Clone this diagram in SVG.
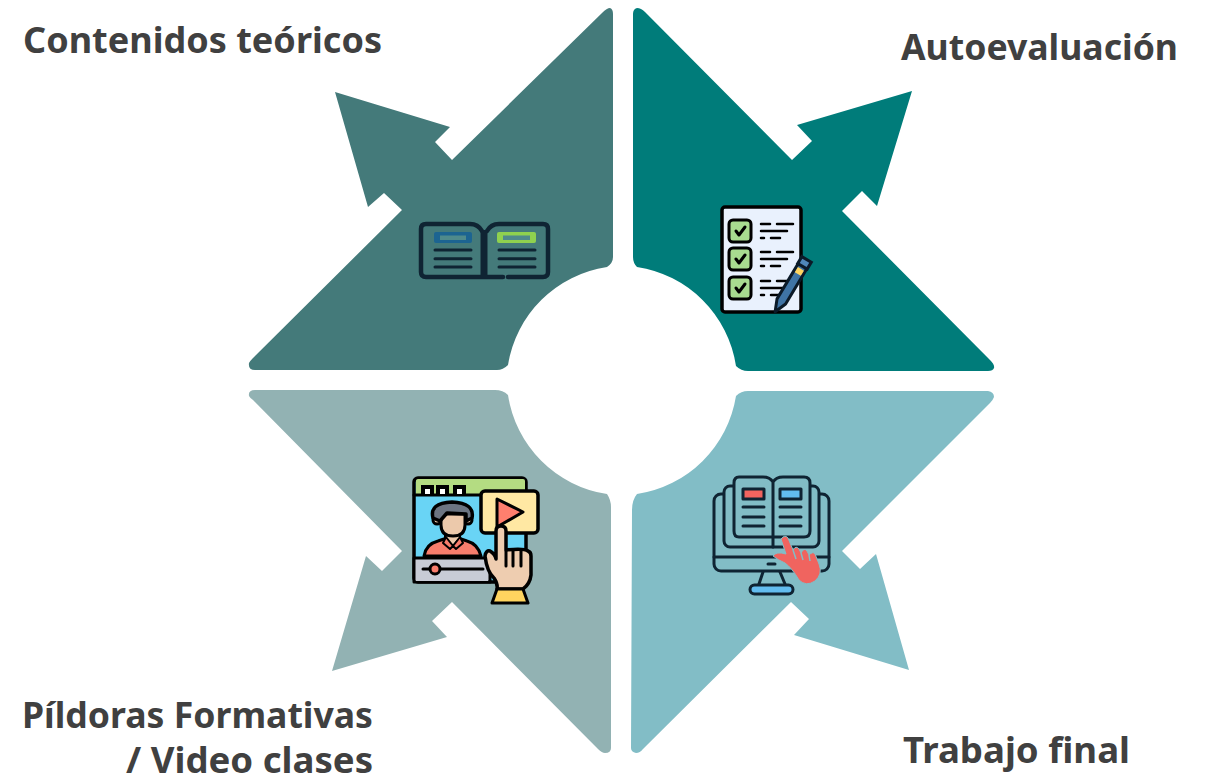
<svg xmlns="http://www.w3.org/2000/svg" width="1210" height="778" viewBox="0 0 1210 778">
<style>
.lab{font-family:"Noto Sans","Open Sans",sans-serif;font-weight:700;font-size:35px;fill:#404040}
.d{stroke:#0f2433;stroke-width:3;stroke-linecap:round;stroke-linejoin:round}
.n{fill:none}
.b{stroke:#000;stroke-width:3;stroke-linecap:round;stroke-linejoin:round}
.l{fill:none;stroke:#000;stroke-width:2.5;stroke-linecap:round;stroke-linejoin:round}
</style>
<rect width="1210" height="778" fill="#fff"/>
<g id="connectors"/>
<g id="n1"><path fill="#447a7a" d="M602 13Q607 8 610 8Q613 9 613 14V257Q613 263 607 267A118 118 0 0 0 508 365Q503 370 497 370H255Q248 370 249 363Q250 361 253 358L402 210L384 193L368 207L335 92L450 127L435 142L452 160Z"/>
<text class="lab" x="23" y="53" textLength="359" lengthAdjust="spacingAndGlyphs">Contenidos teóricos</text>
<g class="d n" style="stroke-width:4.500"><path d="M482 231Q478 224 470 224H426Q421 224 421 229V272Q421 277 426 277H503M508 277H543Q548 277 548 272V229Q548 224 543 224H499Q491 224 487 231"/><path d="M484 230V277" style="stroke-width:7;stroke-linecap:butt"/></g>
<rect x="434" y="232" width="38" height="11" rx="2" fill="#1c6491"/><rect x="440" y="235.500" width="26" height="4.500" fill="#4f8a8b"/>
<rect x="497" y="232" width="39" height="11" rx="2" fill="#8fd14f"/><rect x="503" y="235.500" width="27" height="4.500" fill="#4f8a8b"/>
<path class="d n" d="M435 250H471M435 258.700H471M435 267H471M499 250H535M499 258.700H535M499 267H535"/></g>
<g id="n2"><path fill="#007c7a" d="M633 14Q633 9 637 8Q641 8 645 12L792 160L812 141L797 125L912 91L877 206L862 191L842 211L990 360Q995 365 994 368Q993 371 988 371H748Q741 371 736 366A118 118 0 0 0 637 267Q633 263 633 257Z"/>
<text class="lab" x="901" y="60" textLength="277" lengthAdjust="spacingAndGlyphs">Autoevaluación</text>
<rect class="b" x="722" y="207" width="79" height="105" rx="3" fill="#e9f1fd" style="stroke-width:3.500"/>
<rect class="b" x="729" y="220" width="22" height="22" rx="4" fill="#a8dc90"/><path class="l" d="M736 231L739 235L745 227" style="stroke-width:3"/><path class="l" d="M761 224H770M777 224H793M761 231H787M761 238H764M771 238H780"/>
<rect class="b" x="729" y="248" width="22" height="22" rx="4" fill="#a8dc90"/><path class="l" d="M736 259L739 263L745 255" style="stroke-width:3"/><path class="l" d="M761 252H770M777 252H793M761 259H787M761 266H764M771 266H780"/>
<rect class="b" x="729" y="277" width="22" height="22" rx="4" fill="#a8dc90"/><path class="l" d="M736 288L739 292L745 284" style="stroke-width:3"/><path class="l" d="M761 281H770M777 281H793M761 288H787M761 295H764M771 295H780"/>
<g transform="translate(805 262) rotate(31)"><path d="M-5 4V46L0 58L5 46V4Z" fill="#3f74a5" stroke="#0b1a28" stroke-width="3" stroke-linejoin="round"/><rect x="-5.500" y="-3" width="11" height="8" fill="#4f86b8" stroke="#0b1a28" stroke-width="3"/><rect x="-3.500" y="8" width="7" height="6" fill="#ffd45f"/></g></g>
<g id="n3"><path fill="#92b2b3" d="M249 396Q248 390 255 390H495Q503 390 508 395A118 118 0 0 0 607 494Q611 500 611 507V748Q611 753 605 753Q602 753 598 749L452 602L432 621L447 637L332 671L366 556L382 571L402 551L253 400Q250 398 249 396Z"/>
<text class="lab" x="22" y="728" textLength="351" lengthAdjust="spacingAndGlyphs">Píldoras Formativas</text><text class="lab" x="126" y="773" textLength="247" lengthAdjust="spacingAndGlyphs">/ Video clases</text>
<rect class="b" x="414" y="478" width="112" height="104" rx="4" fill="#69d4f5" style="stroke-width:3.500"/>
<path d="M416 495V481Q416 479 418 479H523Q525 479 525 481V495Z" fill="#b4dc82"/><path d="M414 495H526" class="b"/>
<path fill="#000" d="M421 485H434V496H421ZM436 485H449V496H436ZM453 485H466V496H453Z"/><path fill="#fff" d="M425 489H430V494H425ZM440 489H445V494H440ZM457 489H462V494H457Z"/>
<path class="b" d="M424 556Q426 544 438 541L447 538H458L467 541Q478 544 481 556Z" fill="#f87d6c"/>
<path class="b" d="M445 538V533H460V538L453 546Z" fill="#ecc9ab" style="stroke-width:2"/>
<path class="b" d="M443 543L446 537L453 546L460 537L463 543L456 549L453 546L450 549Z" fill="#f87d6c" style="stroke-width:2"/>
<circle cx="437" cy="520" r="4" fill="#ecc9ab" class="b"/><circle cx="468" cy="520" r="4" fill="#ecc9ab" class="b"/>
<path class="b" d="M441 514V525Q441 536 453 536Q465 536 465 525V514Z" fill="#ecc9ab"/>
<path class="b" d="M433 518Q429 503 452 502Q475 503 472 518L466 521V514L447 513L440 521Z" fill="#6c7582" style="stroke-width:3.500"/>
<rect class="b" x="414" y="558" width="76" height="24" fill="#c8ccd6"/><rect x="416" y="560" width="72" height="21" fill="#c8ccd6"/>
<path class="b" d="M423 569H483"/><circle class="b" cx="435" cy="569" r="5" fill="#f87d6c"/>
<rect class="b" x="481" y="491" width="57" height="42" rx="4" fill="#ffe8a3" style="stroke-width:3.500"/>
<path class="b" d="M497 499L523 512L497 527Z" fill="#ff7f6e"/>
<path class="b" d="M501 526Q506 526 506 531V550Q524 548 528 551Q531 552 531 556V575Q530 584 523 589H497Q498 584 494 578Q487 572 485 556Q486 550 490 551Q495 554 496 559V531Q496 526 501 526Z" fill="#eecdb0" style="stroke-width:3.500"/>
<path class="b" d="M506 551V566M513 550V566M521 550V566"/>
<path class="b" d="M497 589H523L528 603H492Z" fill="#ffd45f"/></g>
<g id="n4"><path fill="#82bdc6" d="M736 396Q741 391 748 391H988Q994 392 994 397Q993 400 990 403L842 551L860 569L876 554L909 670L794 635L809 619L791 602L643 749Q640 753 636 753Q631 752 631 748L632 510Q632 500 637 494A118 118 0 0 0 736 396Z"/>
<text class="lab" x="903" y="763" textLength="227" lengthAdjust="spacingAndGlyphs">Trabajo final</text>
<rect class="d" x="714" y="494" width="115" height="77" rx="7" fill="#82bdc6"/><path class="d n" d="M714 557H829"/>
<rect class="d" x="724" y="486" width="95" height="61" rx="6" fill="#82bdc6"/>
<path class="d" d="M773 482Q770 477 763 477H739Q734 477 734 483V531Q734 537 739 537H804Q810 537 810 531V483Q810 477 804 477H783Q776 477 773 482V547" fill="#82bdc6"/>
<rect x="743" y="489" width="21" height="10" fill="#f2645f" class="d"/><rect x="780" y="489" width="21" height="10" fill="#62bdf0" class="d"/>
<path class="d n" d="M743 507H764M743 517H764M743 526H764M780 507H801M780 517H801M780 526H801"/>
<path d="M768 564H775" class="d n"/><path class="d n" d="M763 572L759 584M780 572L785 584"/>
<rect class="d" x="750" y="585" width="43" height="9" rx="4.500" fill="#62bdf0"/>
<path fill="#f0645f" stroke="#82bdc6" stroke-width="1" d="M781 539Q785 534 788 538L793 550Q796 545 799 549L801 553Q804 547 807 551L809 555Q813 551 815 554L819 564Q823 574 815 581Q806 587 799 580Q792 568 785 563Q778 560 773 556Q776 551 786 554Z"/>
<path stroke="#82bdc6" stroke-width="1.500" fill="none" d="M793 550L796 559M801 553L803 560M809 555L810 561"/></g>
</svg>
